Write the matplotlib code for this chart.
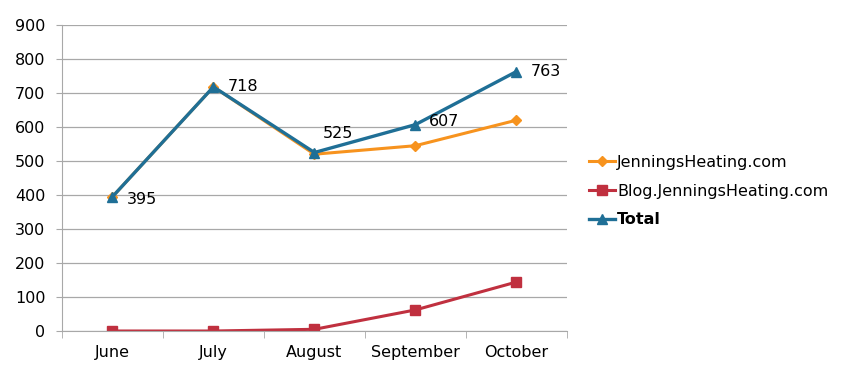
import matplotlib.pyplot as plt
import numpy as np

months = ['June', 'July', 'August', 'September', 'October']
site = [395, 718, 520, 545, 620]
blog = [0, 0, 5, 62, 144]
total = [395, 718, 525, 607, 763]

orange = '#F7931E'
red = '#C0303F'
blue = '#1F6F96'


def main():
    plt.rcParams['font.family'] = 'DejaVu Sans'
    fig = plt.figure(figsize=(8.55, 3.71), dpi=100)
    ax = fig.add_axes([0.0725, 0.1078, 0.5905, 0.8248])

    x = np.arange(len(months))
    l1, = ax.plot(x, site, color=orange, lw=2.2, marker='D', ms=5, label='JenningsHeating.com')
    l2, = ax.plot(x, blog, color=red, lw=2.2, marker='s', ms=7, label='Blog.JenningsHeating.com')
    l3, = ax.plot(x, total, color=blue, lw=2.4, marker='^', ms=7, label='Total')

    offsets = [(10, -2), (10, 0), (6, 14), (10, 2), (10, 0)]
    for xi, v, off in zip(x, total, offsets):
        ax.annotate(str(v), (xi, v), xytext=off, textcoords='offset points',
                    fontsize=11.5, va='center', ha='left')

    ax.set_xlim(-0.5, 4.5)
    ax.set_ylim(0, 900)
    ax.set_yticks(range(0, 901, 100))
    ax.set_xticks(x)
    ax.set_xticklabels(months)
    ax.set_xticks(np.arange(-0.5, 5, 1), minor=True)
    ax.tick_params(axis='x', which='major', length=0, pad=10, labelsize=11.5)
    ax.tick_params(axis='x', which='minor', length=5, color='#a8a8a8')
    ax.tick_params(axis='y', length=4, color='#a8a8a8', labelsize=11.5, pad=8)
    ax.grid(axis='y', color='#a8a8a8', lw=0.9)
    ax.set_axisbelow(True)
    for s in ['top', 'right']:
        ax.spines[s].set_visible(False)
    for s in ['left', 'bottom']:
        ax.spines[s].set_color('#a8a8a8')

    leg = fig.legend(handles=[l1, l2, l3], loc='center left', bbox_to_anchor=(0.689, 0.485),
                     frameon=False, fontsize=11.5, handlelength=1.65, handletextpad=0.1,
                     labelspacing=0.85, borderpad=0, borderaxespad=0)
    leg.get_texts()[2].set_fontweight('bold')

    fig.savefig('out.png', dpi=100)


if __name__ == '__main__':
    main()
